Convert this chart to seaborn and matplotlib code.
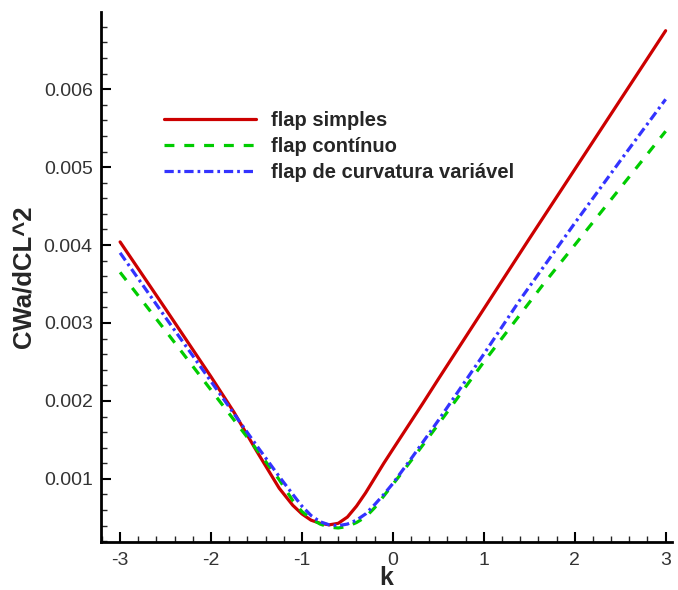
import matplotlib
matplotlib.use("Agg")
import matplotlib.pyplot as plt
from matplotlib.ticker import MultipleLocator
import seaborn as sns
import pandas as pd

k_red = [-3.0, -2.5, -2.0, -1.75, -1.5, -1.25, -1.1, -1.0, -0.9, -0.8, -0.7, -0.6, -0.5, -0.4, -0.3, -0.2, -0.1, 0.0, 0.33, 0.5, 1.0, 1.5, 2.0, 2.5, 3.0]
v_red = [0.00404, 0.00318, 0.00231, 0.00186, 0.00136, 0.00088, 0.00066, 0.00055, 0.00047, 0.00043, 0.00041, 0.00043, 0.00051, 0.00065, 0.00082, 0.00101, 0.00120, 0.00138, 0.00197, 0.00228, 0.00318, 0.00408, 0.00497, 0.00586, 0.00675]

k_green = [-3.0, -2.5, -2.0, -1.75, -1.5, -1.25, -1.1, -1.0, -0.9, -0.8, -0.7, -0.6, -0.5, -0.4, -0.3, -0.2, -0.1, 0.0, 0.1, 0.25, 0.5, 1.0, 1.65, 2.0, 2.5, 3.0]
v_green = [0.00365, 0.00290, 0.00214, 0.00176, 0.00138, 0.00099, 0.00072, 0.00058, 0.00049, 0.00042, 0.00038, 0.00037, 0.00039, 0.00044, 0.00051, 0.00063, 0.00078, 0.00093, 0.00108, 0.00131, 0.00170, 0.00250, 0.00349, 0.00400, 0.00473, 0.00546]

k_blue = [-3.0, -2.5, -2.0, -1.75, -1.5, -1.25, -1.1, -1.0, -0.9, -0.8, -0.7, -0.6, -0.5, -0.4, -0.3, -0.2, -0.1, 0.0, 0.1, 0.22, 0.36, 0.5, 1.0, 1.4, 2.0, 2.5, 3.0]
v_blue = [0.00390, 0.00307, 0.00225, 0.00184, 0.00143, 0.00103, 0.00080, 0.00065, 0.00053, 0.00045, 0.00041, 0.00040, 0.00042, 0.00047, 0.00055, 0.00067, 0.00080, 0.00094, 0.00110, 0.00129, 0.00152, 0.00175, 0.00260, 0.00330, 0.00428, 0.00508, 0.00587]

series_names = ["flap simples", "flap contínuo", "flap de curvatura variável"]

df = pd.concat([
    pd.DataFrame({"k": k_red, "v": v_red, "s": series_names[0]}),
    pd.DataFrame({"k": k_green, "v": v_green, "s": series_names[1]}),
    pd.DataFrame({"k": k_blue, "v": v_blue, "s": series_names[2]}),
])

sns.set_style("ticks")
plt.rcParams["font.family"] = ["Liberation Sans", "DejaVu Sans"]
plt.rcParams["axes.unicode_minus"] = False

fig = plt.figure(figsize=(6.78, 5.90), dpi=100)
ax = fig.add_axes([101/678, 48/590, (672-101)/678, (542-12)/590])

colors = {series_names[0]: "#cc0000", series_names[1]: "#00cc00", series_names[2]: "#3333ff"}
dashes = {series_names[0]: "", series_names[1]: (3.1, 3.1), series_names[2]: (2.9, 1.25, 0.85, 1.2)}

sns.lineplot(data=df, x="k", y="v", hue="s", style="s", palette=colors, dashes=dashes,
             linewidth=2.3, ax=ax, sort=True, estimator=None)

ax.set_xlim(-3.21, 3.07)
ax.set_ylim(0.00019, 0.00699)
ax.xaxis.set_major_locator(MultipleLocator(1))
ax.xaxis.set_minor_locator(MultipleLocator(0.2))
ax.yaxis.set_minor_locator(MultipleLocator(0.0002))
ax.set_yticks([0.001, 0.002, 0.003, 0.004, 0.005, 0.006])
ax.set_yticklabels(["0.001", "0.002", "0.003", "0.004", "0.005", "0.006"])
ax.tick_params(which="major", direction="in", length=7, width=1.5, labelsize=14, colors="black")
ax.tick_params(axis="x", which="major", pad=7)
ax.tick_params(axis="y", which="major", pad=6)
ax.tick_params(which="minor", direction="in", length=4, width=1)
for lab in ax.get_xticklabels() + ax.get_yticklabels():
    lab.set_color("#333333")

for side in ["top", "right"]:
    ax.spines[side].set_visible(False)
for side in ["left", "bottom"]:
    ax.spines[side].set_linewidth(2)
    ax.spines[side].set_color("black")

ax.set_xlabel("k", fontsize=18, fontweight="bold", labelpad=-2)
ax.set_ylabel("CWa/dCL^2", fontsize=18.5, fontweight="bold", labelpad=6)

leg = ax.legend(loc="upper left", bbox_to_anchor=(0.0785, 0.847), frameon=False,
                handlelength=4.57, handletextpad=0.75, labelspacing=0.35,
                prop={"weight": "bold", "size": 14.5})
for h in leg.get_lines():
    h.set_linewidth(2.3)

fig.savefig("out.png", dpi=100)
